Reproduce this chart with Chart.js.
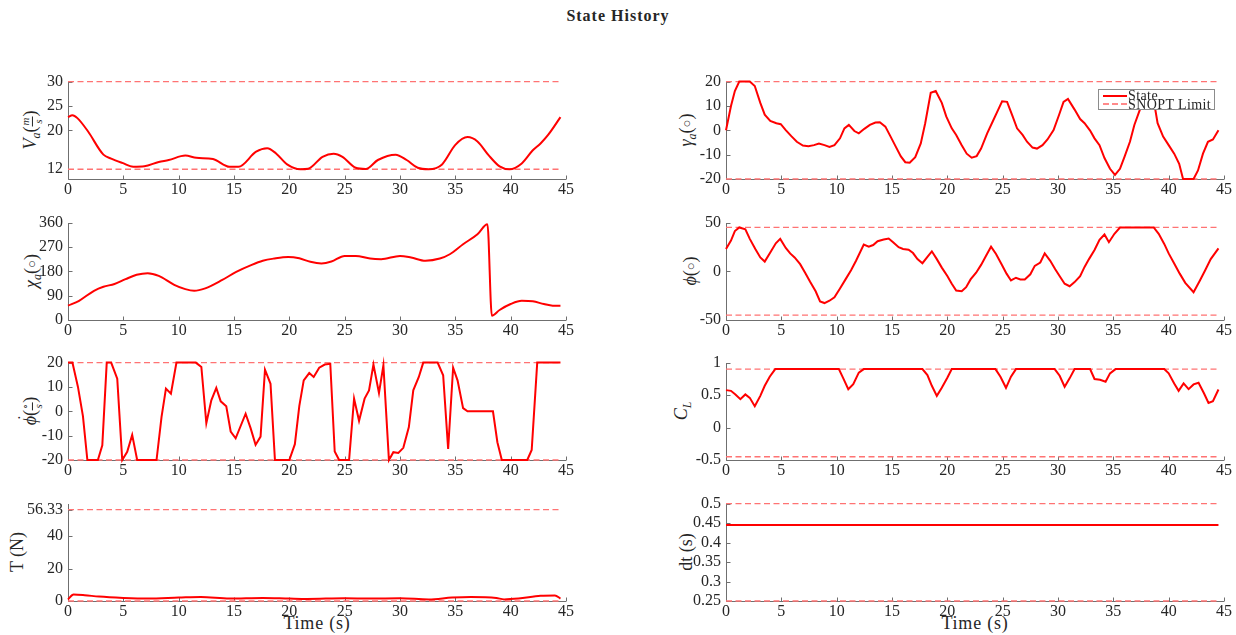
<!DOCTYPE html>
<html>
<head>
<meta charset="utf-8">
<script src="https://cdn.jsdelivr.net/npm/chart.js@4.4.1/dist/chart.umd.min.js"></script>
<style>
  body { margin:0; background:#fff; width:1236px; height:635px; position:relative; overflow:hidden;
         font-family:"Liberation Serif","DejaVu Serif",serif; color:#262626; }
  canvas { position:absolute; }
  .title { position:absolute; left:0; width:1236px; top:7px; text-align:center; font-weight:bold; font-size:16px; letter-spacing:1px; }
  .yt { position:absolute; transform:translate(-50%,-50%) rotate(-90deg); white-space:nowrap; font-size:18px; line-height:1; }
  .yt sub { font-size:12px; vertical-align:-4px; }
  .frac { display:inline-block; vertical-align:middle; text-align:center; font-size:11px; line-height:1.05; font-style:italic; }
  .frac span { display:block; padding:0 1px; }
  .frac span:first-child { border-bottom:1px solid #262626; }
  .circ { font-size:13px; vertical-align:1px; }
  .dotted { position:relative; display:inline-block; }
  .dotted .dot { position:absolute; left:5px; top:-5px; font-style:normal; font-size:16px; }
  .xt { position:absolute; transform:translate(-50%,-50%); font-size:18px; letter-spacing:0.8px; white-space:nowrap; }
  .legend { position:absolute; left:1098px; top:89px; width:115px; height:19px; border:1px solid #8c8c8c; background:#fff; z-index:5; }
  .legend .ln { position:absolute; left:4px; width:24px; }
  .legend .tx { position:absolute; left:29px; font-size:14px; line-height:1; letter-spacing:0.4px; white-space:nowrap; }
</style>
</head>
<body>
<div class="title">State History</div>

<div class="yt" style="left:32px;top:130px;"><i>V</i><sub><i>a</i></sub>(<span class="frac"><span>m</span><span>s</span></span>)</div>
<div class="yt" style="left:32px;top:271px;"><i>χ</i><sub><i>a</i></sub>(<span class="circ">○</span>)</div>
<div class="yt" style="left:32px;top:411px;"><span class="dotted"><i>ϕ</i><span class="dot">˙</span></span>(<span class="frac"><span>∘</span><span>s</span></span>)</div>
<div class="yt" style="left:17px;top:552px;">T (N)</div>
<div class="yt" style="left:687px;top:130px;"><i>γ</i><sub><i>a</i></sub>(<span class="circ">○</span>)</div>
<div class="yt" style="left:690px;top:271px;"><i>ϕ</i>(<span class="circ">○</span>)</div>
<div class="yt" style="left:682px;top:411px;"><i>C</i><sub><i>L</i></sub></div>
<div class="yt" style="left:686px;top:552px;">dt (s)</div>

<div class="xt" style="left:317px;top:623px;">Time (s)</div>
<div class="xt" style="left:975px;top:623px;">Time (s)</div>

<div class="legend">
  <div class="ln" style="top:5px;border-top:2px solid #ff0000;"></div>
  <div class="ln" style="top:13px;border-top:2px dashed #ff8a8a;"></div>
  <div class="tx" style="top:-1px;">State</div>
  <div class="tx" style="top:8px;">SNOPT Limit</div>
</div>

<script>
// ---------- data ----------
const xTicks = [0, 5, 10, 15, 20, 25, 30, 35, 40, 45];
const limitTimes = [0, 44.5];

const vaTime   = [0, 0.4, 0.85, 1.8, 3.2, 3.9, 4.9, 5.9, 6.9, 8.2, 9.1, 10.6, 11.6, 13.1, 14.6, 15.4, 17.0, 18.0, 18.8, 19.8, 21.0, 21.7, 23.0, 24.0, 24.8, 26.0, 26.9, 28.0, 29.6, 30.6, 31.6, 32.6, 33.8, 35.0, 36.1, 37.0, 38.0, 39.0, 39.9, 41.0, 42.0, 42.7, 43.4, 44.5];
const vaValues = [22.7, 23.1, 22.5, 19.8, 15.0, 14.2, 13.3, 12.5, 12.6, 13.5, 13.9, 14.8, 14.35, 14.1, 12.5, 12.5, 15.6, 16.3, 15.25, 13.0, 12.0, 12.1, 14.55, 15.2, 14.55, 12.3, 12.05, 13.9, 15.0, 13.9, 12.3, 12.0, 13.0, 17.0, 18.6, 17.7, 14.9, 12.6, 12.0, 13.2, 15.9, 17.3, 19.1, 22.7];
const vaLimits = [12, 30];
const vaTicks  = [12, 20, 25, 30];

const chiTime   = [0, 1.0, 2.35, 3.2, 4.2, 5.2, 6.2, 7.2, 8.2, 9.6, 10.6, 11.4, 12.4, 13.9, 15.2, 16.6, 17.6, 18.6, 19.9, 20.9, 21.9, 22.9, 23.8, 25.0, 26.0, 27.3, 28.3, 30.0, 31.0, 32.3, 33.6, 34.5, 35.7, 37.0, 37.9, 38.3, 39.0, 40.0, 41.0, 42.0, 43.0, 43.8, 44.5];
const chiValues = [53, 71, 108, 123, 133, 151, 167, 173, 163, 130, 114, 108, 117, 147, 178, 204, 219, 227, 233, 228, 215, 209, 216, 237, 237, 227, 225, 237, 231, 219, 227, 243, 280, 317, 354, 16, 37, 59, 71, 69, 59, 53, 53];
const chiLimits = [];
const chiTicks  = [0, 90, 180, 270, 360];

const phiDotTime   = [0, 0.4, 0.9, 1.35, 1.75, 2.7, 3.1, 3.5, 3.9, 4.45, 4.9, 5.35, 5.8, 6.25, 8.0, 8.45, 8.85, 9.3, 9.8, 11.55, 12.05, 12.5, 12.95, 13.4, 13.8, 14.3, 14.7, 15.15, 16.05, 16.5, 16.95, 17.4, 17.8, 18.3, 18.7, 20.0, 20.5, 20.9, 21.3, 21.8, 22.2, 22.7, 23.2, 23.7, 24.1, 24.5, 25.4, 25.85, 26.3, 26.8, 27.2, 27.6, 28.1, 28.5, 29.0, 29.4, 29.85, 30.3, 30.8, 31.2, 31.7, 32.1, 33.4, 33.9, 34.35, 34.8, 35.2, 35.7, 36.1, 38.4, 38.8, 39.2, 41.5, 41.9, 42.4, 44.5];
const phiDotValues = [20, 20, 10, -2, -20, -20, -14, 20, 20, 13.4, -20, -16.6, -9.7, -20, -20, -2.4, 9.3, 7.2, 20, 20, 18.2, -4.9, 4.5, 9.6, 4.1, 2.1, -8.3, -11.1, -1.0, -6.9, -13.8, -10.4, 17.1, 11.3, -20, -20, -13.5, 2.1, 12.7, 15.7, 14.1, 17.9, 19.2, 19.5, -16.5, -20, -20, 5.2, -3.9, 5.2, 8.6, 19.2, 7.5, 18.9, -20, -16.8, -17.1, -15, -6.5, 8.6, 14.1, 20, 20, 14.8, -15.5, 17.9, 12.7, 1.3, 0, 0, -12.7, -20, -20, -15.9, 20, 20];
const phiDotLimits = [-20, 20];
const phiDotTicks  = [-20, -10, 0, 10, 20];

const thrustTime   = [0, 0.5, 1.5, 2.8, 5.0, 7.2, 10.0, 12.0, 14.6, 17.6, 20.0, 21.6, 25.0, 27.3, 30.0, 32.6, 34.7, 36.4, 38.7, 39.4, 40.7, 42.7, 44.0, 44.5];
const thrustValues = [1.0, 4.0, 3.6, 2.7, 1.9, 1.5, 2.1, 2.5, 1.5, 1.9, 1.5, 1.3, 1.7, 1.5, 1.7, 1.0, 2.1, 2.5, 1.9, 1.0, 1.5, 3.2, 3.4, 1.5];
const thrustLimits = [0, 56.33];
const thrustTicks  = [0, 20, 40, 56.33];

const gammaTime   = [0, 0.45, 0.8, 1.2, 2.15, 2.6, 3.1, 3.5, 4.0, 4.55, 4.95, 5.4, 5.9, 6.4, 6.95, 7.45, 7.95, 8.4, 8.9, 9.35, 9.8, 10.3, 10.7, 11.1, 11.6, 12.0, 12.5, 13.0, 13.5, 13.9, 14.4, 14.85, 15.35, 15.8, 16.2, 16.6, 17.1, 17.6, 18.0, 18.5, 18.95, 19.5, 19.9, 20.4, 20.8, 21.3, 21.75, 22.2, 22.65, 23.05, 23.6, 24.1, 24.6, 24.95, 25.4, 25.9, 26.3, 26.8, 27.2, 27.7, 28.1, 28.6, 29.05, 29.6, 30.1, 30.5, 30.9, 31.5, 32.0, 32.4, 32.9, 33.3, 33.75, 34.2, 34.7, 35.15, 35.6, 36.0, 36.5, 36.9, 37.4, 37.85, 38.3, 38.7, 39.0, 39.5, 40.0, 40.5, 40.95, 41.3, 42.25, 42.65, 43.1, 43.55, 44.0, 44.5];
const gammaValues = [0, 10, 16.1, 20, 20, 18.2, 11.25, 6.4, 3.9, 2.9, 2.5, 0.1, -2.4, -4.7, -6.25, -6.5, -6.1, -5.4, -6.1, -6.8, -6.1, -3.3, 0.8, 2.2, -0.3, -1.25, 0.6, 2.2, 3.2, 3.3, 1.5, -2.4, -6.8, -10.7, -13.1, -13.3, -11, -5.4, 2.9, 15.4, 16.1, 11.25, 5.7, 0.8, -1.9, -6.1, -9.6, -11.25, -10.6, -7.5, -1.25, 3.6, 8.5, 11.9, 11.7, 5.7, 0.8, -1.9, -4.7, -7.1, -7.5, -6.1, -3.75, 0.1, 6.4, 11.7, 12.9, 8.5, 4.6, 2.9, -0.1, -3.3, -6.1, -11.4, -15.8, -18.3, -15.8, -11, -4.7, 2.2, 8.5, 13, 15, 11, 2.9, -2.6, -6.1, -9.6, -13.75, -20, -20, -16.5, -9.6, -4.7, -3.75, 0];
const gammaLimits = [-20, 20];
const gammaTicks  = [-20, -10, 0, 10, 20];

const phiTime   = [0, 0.45, 0.8, 1.2, 1.75, 2.15, 2.65, 3.1, 3.5, 4.0, 4.5, 4.9, 5.4, 5.8, 6.2, 6.7, 7.15, 7.6, 8.1, 8.5, 8.9, 9.35, 9.8, 10.3, 10.8, 11.3, 11.75, 12.45, 12.9, 13.3, 13.7, 14.25, 14.7, 15.1, 15.6, 16.0, 16.5, 16.9, 17.3, 17.75, 18.2, 18.6, 19.05, 19.5, 20.0, 20.4, 20.8, 21.3, 21.7, 22.1, 22.6, 23.05, 23.5, 23.95, 24.4, 24.9, 25.35, 25.75, 26.2, 26.6, 27.0, 27.5, 27.9, 28.4, 28.8, 29.3, 29.75, 30.2, 30.6, 31.05, 31.5, 32.0, 32.4, 32.8, 33.3, 33.75, 34.2, 34.6, 35.1, 35.6, 38.65, 39.1, 39.6, 40.0, 40.5, 41.0, 41.5, 42.25, 42.8, 43.3, 43.8, 44.5];
const phiValues = [22.9, 31.6, 41.3, 45, 43, 33.3, 22.9, 14.2, 10, 19.4, 28.8, 33.3, 24, 18.4, 14.2, 7.3, -1.4, -10.8, -20.5, -30.9, -32.6, -30.2, -26.7, -17.7, -8.3, 1, 10.8, 27.4, 25.3, 27, 30.9, 32.6, 33.7, 29.9, 24.7, 22.9, 22.2, 18.75, 12.5, 8.3, 14.9, 20.5, 12.5, 3.8, -4.9, -12.8, -19.8, -20.5, -16.3, -8.3, -1.4, 6.6, 16, 25.3, 17.7, 7.3, -2.4, -9.4, -6.6, -8.3, -8.3, -3.1, 5.6, 9, 18.4, 10.8, 2.1, -5.9, -12.8, -15.3, -11.1, -4.9, 4.5, 12.5, 21.9, 32.3, 37.8, 29.9, 38.5, 45, 45, 38.5, 28.1, 18.4, 8, -2.4, -11.8, -21.5, -10, 1, 12.5, 23.6];
const phiLimits = [-45, 45];
const phiTicks  = [-50, 0, 50];

const clTime   = [0, 0.45, 0.85, 1.3, 1.75, 2.15, 2.6, 3.1, 3.5, 3.95, 4.45, 10.2, 10.6, 11.05, 11.5, 12.0, 12.45, 17.75, 18.2, 18.6, 19.05, 19.5, 20.0, 20.4, 24.35, 24.8, 25.3, 25.75, 26.2, 29.7, 30.15, 30.6, 31.05, 31.5, 32.9, 33.3, 33.8, 34.3, 34.7, 35.2, 39.6, 40.0, 40.5, 40.9, 41.35, 41.8, 42.25, 42.7, 43.2, 43.6, 44.0, 44.5];
const clValues = [0.576, 0.565, 0.51, 0.436, 0.51, 0.457, 0.327, 0.488, 0.643, 0.783, 0.9, 0.9, 0.757, 0.591, 0.669, 0.845, 0.9, 0.9, 0.809, 0.643, 0.488, 0.612, 0.767, 0.9, 0.9, 0.783, 0.612, 0.783, 0.9, 0.9, 0.798, 0.628, 0.757, 0.9, 0.9, 0.747, 0.736, 0.705, 0.834, 0.9, 0.9, 0.834, 0.679, 0.565, 0.679, 0.591, 0.664, 0.69, 0.524, 0.379, 0.405, 0.586];
const clLimits = [-0.45, 0.9];
const clTicks  = [-0.5, 0, 0.5, 1];

const dtTime   = [0, 44.5];
const dtValues = [0.445, 0.445];
const dtLimits = [0.25, 0.5];
const dtTicks  = [0.25, 0.3, 0.35, 0.4, 0.45, 0.5];

// ---------- layout ----------
const COL_LEFT = [68, 726];
const ROW_TOP = [82, 222.5, 363, 503.5];
const PLOT_W = 498, PLOT_H = 97;
const Y_W = 62, X_H = 28, PAD_T = 10, PAD_R = 16;
const TEXT = '#262626';
const FONT = { family: '"Liberation Serif", "DejaVu Serif", serif', size: 16 };

const panels = [
  { col:0, row:0, t:vaTime, v:vaValues, lim:vaLimits, ticks:vaTicks, min:10, max:30, smooth:true },
  { col:0, row:1, t:chiTime, v:chiValues, lim:chiLimits, ticks:chiTicks, min:0, max:360, smooth:true },
  { col:0, row:2, t:phiDotTime, v:phiDotValues, lim:phiDotLimits, ticks:phiDotTicks, min:-20, max:20, smooth:false },
  { col:0, row:3, t:thrustTime, v:thrustValues, lim:thrustLimits, ticks:thrustTicks, min:0, max:60, smooth:true },
  { col:1, row:0, t:gammaTime, v:gammaValues, lim:gammaLimits, ticks:gammaTicks, min:-20, max:20, smooth:false },
  { col:1, row:1, t:phiTime, v:phiValues, lim:phiLimits, ticks:phiTicks, min:-50, max:50, smooth:false },
  { col:1, row:2, t:clTime, v:clValues, lim:clLimits, ticks:clTicks, min:-0.5, max:1, smooth:false },
  { col:1, row:3, t:dtTime, v:dtValues, lim:dtLimits, ticks:dtTicks, min:0.25, max:0.5, smooth:false }
];

const matlabAxes = {
  id: 'matlabAxes',
  beforeDatasetsDraw(chart) {
    const { ctx, chartArea: { left, right, top, bottom }, scales: { x, y } } = chart;
    ctx.save();
    ctx.strokeStyle = '#6f6f6f';
    ctx.lineWidth = 1;
    const L = Math.round(left) + 0.5, B = Math.round(bottom) + 0.5;
    ctx.beginPath();
    ctx.moveTo(L, Math.round(top)); ctx.lineTo(L, B);
    ctx.lineTo(Math.round(right), B);
    ctx.stroke();
    ctx.beginPath();
    x.ticks.forEach(t => { const px = Math.round(x.getPixelForValue(t.value)) + 0.5; ctx.moveTo(px, B); ctx.lineTo(px, B - 4); });
    y.ticks.forEach(t => { const py = Math.round(y.getPixelForValue(t.value)) + 0.5; ctx.moveTo(L, py); ctx.lineTo(L + 4, py); });
    ctx.stroke();
    ctx.restore();
  }
};

panels.forEach(p => {
  const c = document.createElement('canvas');
  const W0 = Y_W + PLOT_W + PAD_R, H0 = PAD_T + PLOT_H + X_H;
  c.width = W0; c.height = H0;
  c.style.width = W0 + 'px'; c.style.height = H0 + 'px';
  document.body.appendChild(c);

  const datasets = [{
    data: p.t.map((t, i) => ({ x: t, y: p.v[i] })),
    borderColor: '#ff0000', borderWidth: 2, pointRadius: 0,
    tension: p.smooth ? 0.4 : 0, cubicInterpolationMode: p.smooth ? 'monotone' : 'default',
    clip: false
  }];
  p.lim.forEach(l => datasets.push({
    data: limitTimes.map(t => ({ x: t, y: l })),
    borderColor: '#ff7373', borderWidth: 1.3, borderDash: [6, 3.5], pointRadius: 0, clip: false
  }));

  const chart = new Chart(c, {
    type: 'line',
    data: { datasets },
    options: {
      responsive: false, maintainAspectRatio: false, animation: false, devicePixelRatio: 1, events: [],
      layout: { padding: { top: PAD_T, right: PAD_R, left: 0, bottom: 0 } },
      plugins: { legend: { display: false }, tooltip: { enabled: false } },
      scales: {
        x: {
          type: 'linear', min: 0, max: 45,
          afterBuildTicks: s => { s.ticks = xTicks.map(v => ({ value: v })); },
          afterFit: s => { s.height = X_H; },
          grid: { display: false, drawTicks: false }, border: { display: false },
          ticks: { font: FONT, color: TEXT, padding: 1, maxRotation: 0, autoSkip: false, callback: v => String(v) }
        },
        y: {
          type: 'linear', min: p.min, max: p.max,
          afterBuildTicks: s => { s.ticks = p.ticks.map(v => ({ value: v })); },
          afterFit: s => { s.width = Y_W; },
          grid: { display: false, drawTicks: false }, border: { display: false },
          ticks: { font: FONT, color: TEXT, padding: 5, autoSkip: false, callback: v => String(v) }
        }
      }
    },
    plugins: [matlabAxes]
  });

  // adjust canvas size so the plot area is exactly PLOT_W x PLOT_H, then place it
  let ca = chart.chartArea;
  const W1 = Math.round(W0 + (PLOT_W - (ca.right - ca.left)));
  const H1 = Math.round(H0 + (PLOT_H - (ca.bottom - ca.top)));
  if (W1 !== W0 || H1 !== H0) {
    c.style.width = W1 + 'px'; c.style.height = H1 + 'px';
    chart.resize(W1, H1);
  }
  ca = chart.chartArea;
  c.style.left = Math.round(COL_LEFT[p.col] - ca.left) + 'px';
  c.style.top = Math.round(ROW_TOP[p.row] - ca.top) + 'px';
});
</script>
</body>
</html>
